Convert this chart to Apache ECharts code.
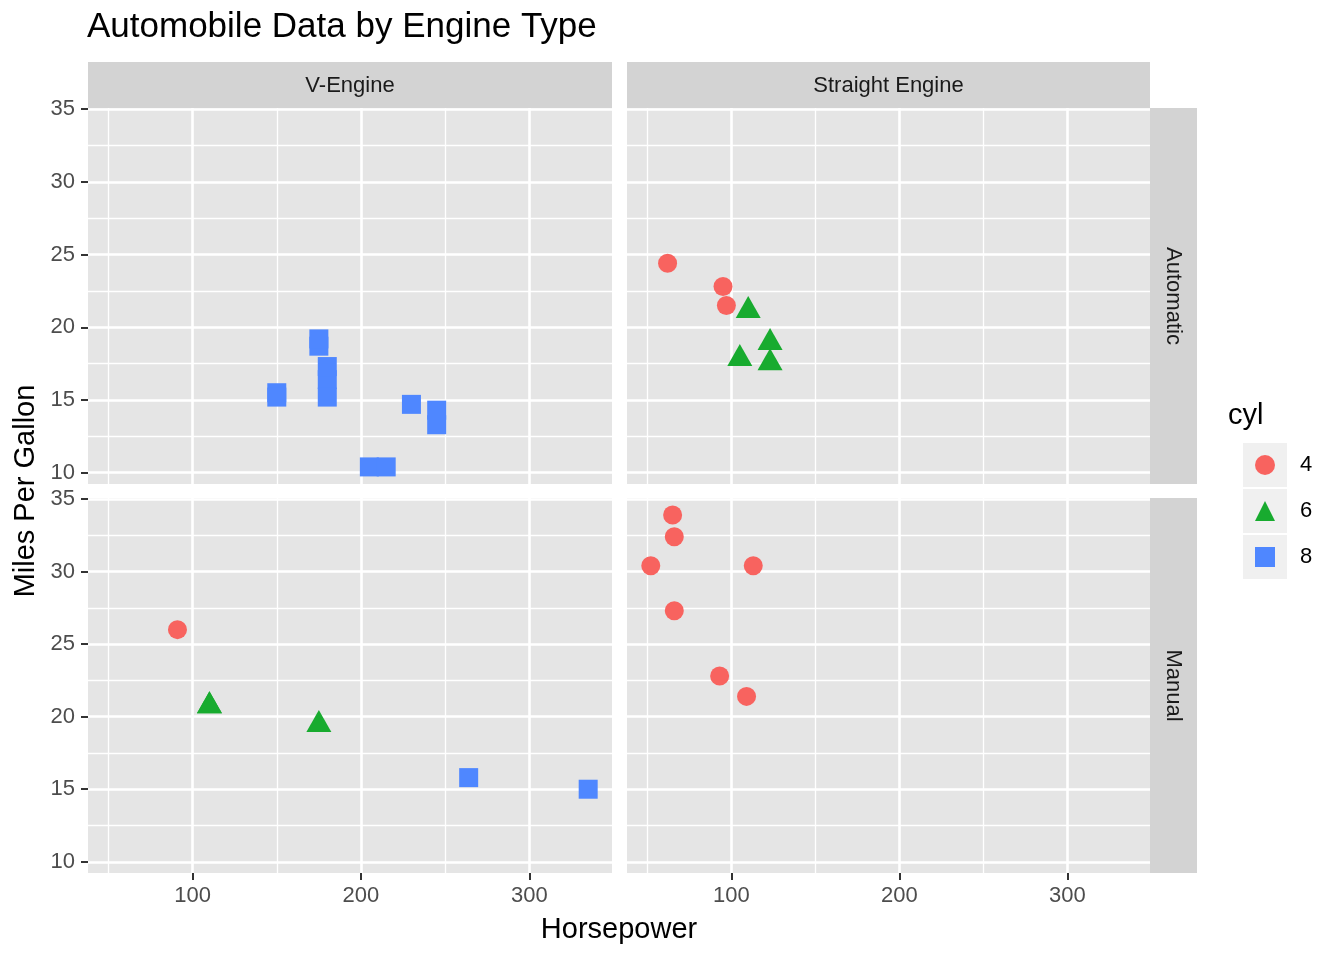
<!DOCTYPE html>
<html>
<head>
<meta charset="utf-8">
<script src="https://cdn.jsdelivr.net/npm/echarts@6/dist/echarts.min.js"></script>
<style>
  html, body { margin: 0; padding: 0; background: #fff; }
  #chart { width: 1344px; height: 960px; }
</style>
</head>
<body>
<div id="chart"></div>
<script>
// mtcars: horsepower, mpg, cylinders, engine (vs), transmission (am)
const hp  = [110, 110, 93, 110, 175, 105, 245, 62, 95, 123, 123, 180, 180, 180, 205, 215, 230, 66, 52, 65, 97, 150, 150, 245, 175, 66, 91, 113, 264, 175, 335, 109];
const mpg = [21, 21, 22.8, 21.4, 18.7, 18.1, 14.3, 24.4, 22.8, 19.2, 17.8, 16.4, 17.3, 15.2, 10.4, 10.4, 14.7, 32.4, 30.4, 33.9, 21.5, 15.5, 15.2, 13.3, 19.2, 27.3, 26, 30.4, 15.8, 19.7, 15, 21.4];
const cyl = [6, 6, 4, 6, 8, 6, 8, 4, 4, 6, 6, 8, 8, 8, 8, 8, 8, 4, 4, 4, 4, 8, 8, 8, 8, 4, 4, 4, 8, 6, 8, 4];
const vs  = [0, 0, 1, 1, 0, 1, 0, 1, 1, 1, 1, 0, 0, 0, 0, 0, 0, 1, 1, 1, 1, 0, 0, 0, 0, 1, 0, 1, 0, 0, 0, 1];
const am  = [1, 1, 1, 0, 0, 0, 0, 0, 0, 0, 0, 0, 0, 0, 0, 0, 0, 1, 1, 1, 0, 0, 0, 0, 0, 1, 1, 1, 1, 1, 1, 1];

const cylLevels = [4, 6, 8];
const engineLabels = ['V-Engine', 'Straight Engine'];
const transLabels = ['Automatic', 'Manual'];
const xTicks = [100, 200, 300];
const xMinor = [50, 150, 250];
const yTicks = [10, 15, 20, 25, 30, 35];
const yMinor = [12.5, 17.5, 22.5, 27.5, 32.5];

const colors = { 4: '#F8635F', 6: '#18AB2F', 8: '#4F87FF' };
const symbols = { 4: 'circle', 6: 'triangle', 8: 'rect' };
const sizes = { 4: 19, 6: [25, 22], 8: 19 };

const xMin = 37.85, xMax = 349.15, yMin = 9.225, yMax = 35.075;
const FONT = 'Liberation Sans';

// panel boxes
const panelX = [88, 627];
const panelW = [524, 523];
const panelY = [108, 498];
const panelH = [376, 375];

const grids = [], xAxes = [], yAxes = [], series = [];
let gi = 0;
for (let r = 0; r < 2; r++) {
  for (let c = 0; c < 2; c++) {
    grids.push({
      left: panelX[c], top: panelY[r], width: panelW[c], height: panelH[r],
      show: true, backgroundColor: '#E5E5E5', borderWidth: 0
    });
    xAxes.push({
      gridIndex: gi, type: 'value', min: xMin, max: xMax,
      axisLine: { show: false },
      splitLine: { show: false },
      axisTick: { show: r === 1, customValues: xTicks, length: 7, lineStyle: { color: '#333', width: 2 } },
      axisLabel: { show: r === 1, customValues: xTicks, color: '#4D4D4D', fontSize: 22, margin: 12, fontFamily: FONT }
    });
    yAxes.push({
      gridIndex: gi, type: 'value', min: yMin, max: yMax,
      axisLine: { show: false },
      splitLine: { show: false },
      axisTick: { show: c === 0, customValues: yTicks, length: 7, lineStyle: { color: '#333', width: 2 } },
      axisLabel: { show: c === 0, customValues: yTicks, color: '#4D4D4D', fontSize: 22, margin: 13, fontFamily: FONT }
    });
    // grid lines
    const lines = [];
    xMinor.forEach(v => lines.push({ xAxis: v, lineStyle: { width: 1.3 } }));
    yMinor.forEach(v => lines.push({ yAxis: v, lineStyle: { width: 1.3 } }));
    xTicks.forEach(v => lines.push({ xAxis: v, lineStyle: { width: 2.6 } }));
    yTicks.forEach(v => lines.push({ yAxis: v, lineStyle: { width: 2.6 } }));
    series.push({
      type: 'scatter', xAxisIndex: gi, yAxisIndex: gi, data: [], silent: true, z: 1,
      markLine: {
        z: 1, silent: true, symbol: ['none', 'none'], animation: false,
        label: { show: false },
        lineStyle: { color: '#FFFFFF', type: 'solid', opacity: 1 },
        emphasis: { disabled: true },
        data: lines
      }
    });
    // vs=0 -> V-Engine (col 0), am=0 -> Automatic (row 0)
    cylLevels.forEach(k => {
      const pts = [];
      for (let i = 0; i < hp.length; i++) {
        if (vs[i] === c && am[i] === r && cyl[i] === k) pts.push([hp[i], mpg[i]]);
      }
      series.push({
        name: String(k), type: 'scatter', xAxisIndex: gi, yAxisIndex: gi, z: 10,
        symbol: symbols[k], symbolSize: sizes[k],
        itemStyle: { color: colors[k], opacity: 1 },
        data: pts
      });
    });
    gi++;
  }
}

const graphics = [];
// top strips
for (let c = 0; c < 2; c++) {
  graphics.push({ type: 'rect', left: panelX[c], top: 62, shape: { width: panelW[c], height: 46 }, style: { fill: '#D3D3D3' }, z: 0 });
  graphics.push({ type: 'text', x: panelX[c] + panelW[c] / 2, y: 86, style: { text: engineLabels[c], fill: '#1A1A1A', font: '22px "' + FONT + '"', align: 'center', verticalAlign: 'middle' } });
}
// right strips
for (let r = 0; r < 2; r++) {
  graphics.push({ type: 'rect', left: 1150, top: panelY[r], shape: { width: 47, height: panelH[r] }, style: { fill: '#D3D3D3' }, z: 0 });
  graphics.push({ type: 'text', x: 1173, y: panelY[r] + panelH[r] / 2, rotation: -Math.PI / 2, style: { text: transLabels[r], fill: '#1A1A1A', font: '22px "' + FONT + '"', align: 'center', verticalAlign: 'middle' } });
}
// axis titles
graphics.push({ type: 'text', x: 619, y: 930, style: { text: 'Horsepower', fill: '#000', font: '29px "' + FONT + '"', align: 'center', verticalAlign: 'middle' } });
graphics.push({ type: 'text', x: 26, y: 491, rotation: Math.PI / 2, style: { text: 'Miles Per Gallon', fill: '#000', font: '29px "' + FONT + '"', align: 'center', verticalAlign: 'middle' } });
// legend title and key backgrounds
graphics.push({ type: 'text', x: 1228, y: 416, style: { text: 'cyl', fill: '#000', font: '29px "' + FONT + '"', align: 'left', verticalAlign: 'middle' } });
for (let k = 0; k < 3; k++) {
  graphics.push({ type: 'rect', left: 1243, top: 443 + k * 46, shape: { width: 44, height: 44 }, style: { fill: '#F0F0F0' }, z: 0 });
}

const chart = echarts.init(document.getElementById('chart'));
chart.setOption({
  animation: false,
  backgroundColor: '#FFFFFF',
  title: {
    text: 'Automobile Data by Engine Type', left: 87, top: 10, padding: 0,
    textStyle: { fontSize: 35, fontWeight: 'normal', color: '#000', fontFamily: FONT }
  },
  legend: {
    orient: 'vertical', left: 1255, top: 454, itemGap: 24, padding: 0,
    itemWidth: 20, itemHeight: 20, selectedMode: false,
    data: [
      { name: '4', icon: 'circle' },
      { name: '6', icon: 'triangle' },
      { name: '8', icon: 'rect' }
    ],
    textStyle: { fontSize: 22, color: '#000', fontFamily: FONT, padding: [0, 0, 0, 20] }
  },
  grid: grids,
  xAxis: xAxes,
  yAxis: yAxes,
  graphic: { elements: graphics },
  series: series
});
</script>
</body>
</html>
